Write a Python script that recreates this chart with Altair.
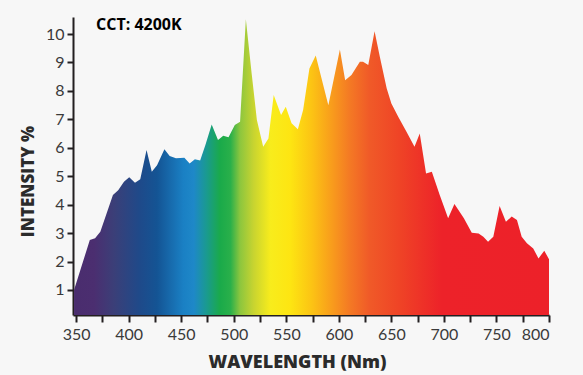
import altair as alt
import pandas as pd

wavelength = [348, 354, 363, 368, 373, 385, 390, 395.5, 400.5, 406, 411, 417, 422, 427, 434,
              439, 445, 453, 458, 463, 468, 473, 479, 485, 490, 495, 501, 506, 511.5, 517,
              522, 528, 533, 538, 545, 549.5, 555, 561, 566, 572, 578, 590, 601, 606, 612,
              620, 623, 628, 634, 639, 645.5, 650, 656.5, 664.5, 672, 677, 683, 688.5, 696,
              704, 710, 719, 726.5, 733, 737.5, 742, 747, 753, 759, 764.5, 769.5, 774, 779,
              785, 790, 795.5, 800]
intensity = [1.0, 1.7, 2.76, 2.82, 3.05, 4.34, 4.51, 4.81, 4.96, 4.77, 4.89, 5.92, 5.16, 5.39, 5.95,
             5.71, 5.63, 5.65, 5.45, 5.6, 5.55, 6.10, 6.82, 6.27, 6.42, 6.37, 6.80, 6.92, 10.52, 8.62,
             6.98, 6.04, 6.33, 7.86, 7.15, 7.44, 6.86, 6.65, 7.33, 8.79, 9.25, 7.50, 9.46, 8.38, 8.56,
             9.03, 9.03, 8.91, 10.10, 9.20, 8.09, 7.56, 7.09, 6.56, 6.04, 6.50, 5.10, 5.16, 4.34,
             3.52, 4.02, 3.52, 3.01, 2.99, 2.87, 2.70, 2.87, 3.95, 3.40, 3.58, 3.46, 2.87, 2.64,
             2.46, 2.11, 2.38, 2.08]

x_ticks = list(range(350, 801, 25))
y_ticks = list(range(1, 11))

stop_nm = [348, 367, 386, 411, 427, 452, 462, 474, 487, 497, 506, 519, 535, 554, 574,
           591, 610, 629, 657, 698, 800]
stop_color = ["#4a2d6e", "#4b2e70", "#3b3f78", "#1e4a8a", "#145494", "#1a80c4", "#1e88c8",
              "#1a9a90", "#1aaa4a", "#2ab04a", "#8cc63e", "#c8d430", "#f8ec1c", "#fde512",
              "#fcc414", "#f9a11b", "#f47a24", "#f05a28", "#ef4426", "#ed2229", "#ed2129"]

lo, hi = min(wavelength), max(wavelength)
stops = [alt.GradientStop(offset=(n - lo) / (hi - lo), color=c) for n, c in zip(stop_nm, stop_color)]

df = pd.DataFrame({"wavelength": wavelength, "intensity": intensity})

area = alt.Chart(df).mark_area(
    clip=True,
    color=alt.Gradient(gradient="linear", stops=stops, x1=0, x2=1, y1=0, y2=0),
).encode(
    x=alt.X("wavelength:Q",
            scale=alt.Scale(domain=[347, 800], nice=False, zero=False),
            axis=alt.Axis(values=x_ticks,
                          labelExpr="datum.value % 50 == 0 ? datum.label : ''",
                          title="WAVELENGTH (Nm)",
                          titleX=224, titleY=52, titleAlign="center",
                          titleBaseline="alphabetic", titleFontSize=18,
                          tickSize=7, labelPadding=4)),
    y=alt.Y("intensity:Q",
            scale=alt.Scale(domain=[0.12, 10.6], nice=False, zero=False),
            axis=alt.Axis(values=y_ticks, title="INTENSITY %",
                          titleX=-40, titleY=164, titleAlign="center",
                          titleBaseline="alphabetic", titleAngle=-90,
                          tickSize=6, labelPadding=3)),
)

label = alt.Chart(pd.DataFrame({"t": ["CCT: 4200K"]})).mark_text(
    align="left", baseline="alphabetic", font="Open Sans", fontWeight="bold",
    fontSize=16, color="#000000"
).encode(text="t:N", x=alt.value(23), y=alt.value(13))

chart = alt.layer(area, label).properties(
    width=476, height=298,
    background="#f7f7f7",
    padding={"left": 73, "top": 17, "right": 34, "bottom": 60},
    autosize=alt.AutoSizeParams(type="none"),
).configure_view(stroke=None).configure_axis(
    grid=False,
    domainColor="#231f20", domainWidth=2,
    tickColor="#231f20", tickWidth=2,
    labelFont="Lato", labelFontSize=16, labelColor="#3a3a3a",
    titleFont="Open Sans", titleFontSize=17, titleFontWeight=800, titleColor="#2b2b2b",
)

chart.save("out.html", embed_options={"renderer": "svg", "actions": False})
